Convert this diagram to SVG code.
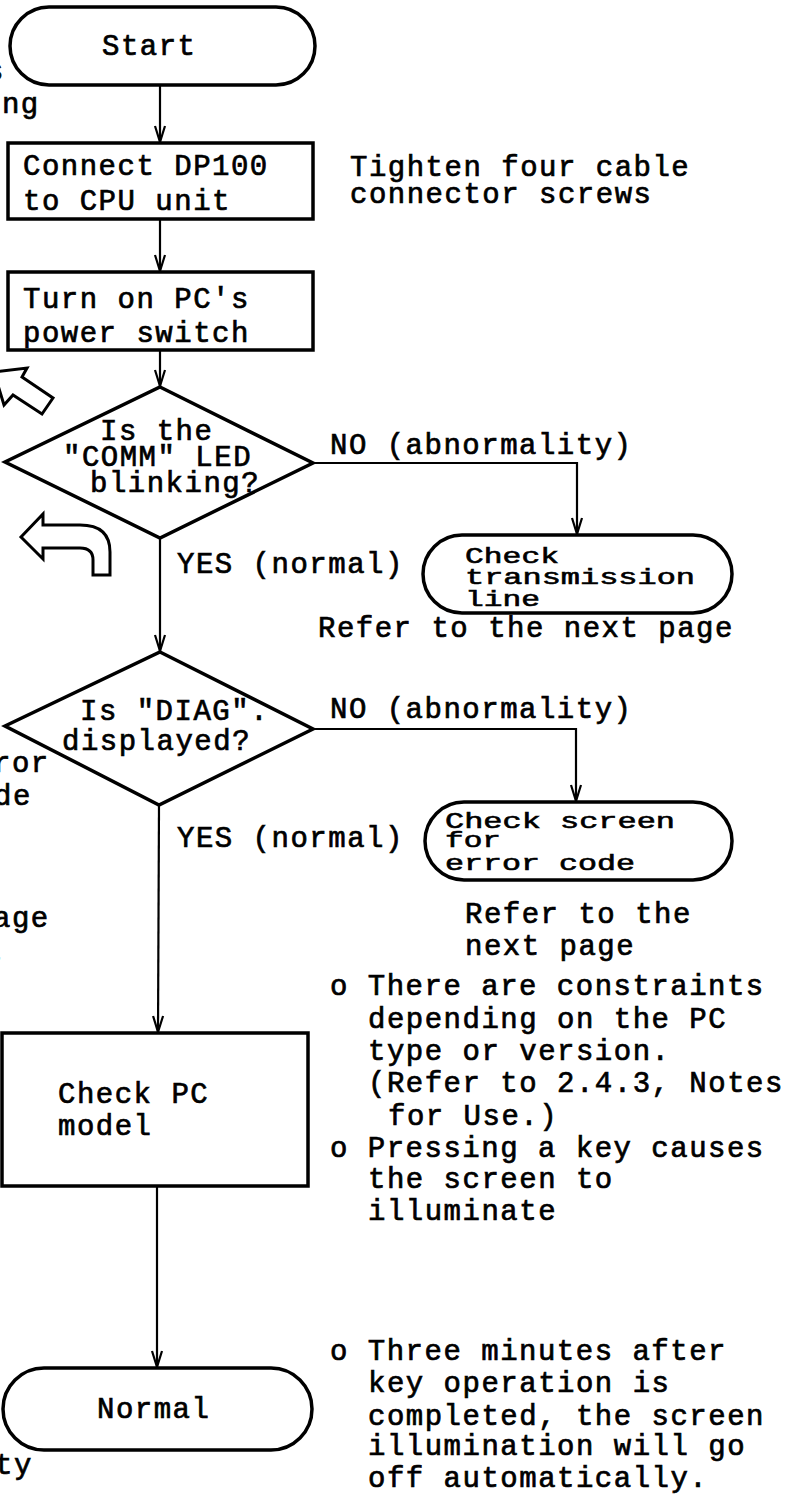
<svg xmlns="http://www.w3.org/2000/svg" width="795" height="1494" viewBox="0 0 795 1494">
<style>
.t{font-family:"Liberation Mono","Courier New",monospace;font-size:29px;letter-spacing:1.5px;fill:#000;stroke:#000;stroke-width:0.7px}
.s{font-family:"Liberation Mono","Courier New",monospace;font-size:22px;fill:#000;stroke:#000;stroke-width:0.6px}
.shape{fill:#fff;stroke:#000;stroke-width:3.5}
.conn{fill:none;stroke:#000;stroke-width:2.2}
.hollow{fill:#fff;stroke:#000;stroke-width:3;stroke-linejoin:miter}
</style>
<defs>
<marker id="arr" markerUnits="userSpaceOnUse" viewBox="-18 -8 20 16" refX="0" refY="0" markerWidth="20" markerHeight="16" orient="auto">
<path d="M-16,-5 L0,0 L-16,5" fill="none" stroke="#000" stroke-width="2.2"/>
</marker>
</defs>
<rect width="795" height="1494" fill="#fff"/>

<g id="connectors">
<path class="conn" d="M160,85 L160,142" marker-end="url(#arr)"/>
<path class="conn" d="M160,219 L160,271" marker-end="url(#arr)"/>
<path class="conn" d="M160,350 L160,386" marker-end="url(#arr)"/>
<path class="conn" d="M313,463 L577,463 L577,534" marker-end="url(#arr)"/>
<path class="conn" d="M160,538 L160,651" marker-end="url(#arr)"/>
<path class="conn" d="M313,729 L576,729 L576,801" marker-end="url(#arr)"/>
<path class="conn" d="M159,805 L158,1032" marker-end="url(#arr)"/>
<path class="conn" d="M157,1186 L157,1367" marker-end="url(#arr)"/>
</g>

<g id="start">
<rect class="shape" x="10" y="7" width="305" height="78" rx="39"/>
<text class="t" x="102" y="55">Start</text>
</g>

<g id="connect">
<rect class="shape" x="8" y="143" width="305" height="76"/>
<text class="t" x="23" y="175">Connect DP100</text>
<text class="t" x="23" y="210">to CPU unit</text>
</g>

<g id="power">
<rect class="shape" x="8" y="272" width="305" height="78"/>
<text class="t" x="23" y="308">Turn on PC's</text>
<text class="t" x="23" y="342">power switch</text>
</g>

<g id="comm">
<polygon class="shape" points="160,387 313,463 160,538 5,462"/>
<text class="t" x="100" y="440">Is the</text>
<text class="t" x="63" y="466">"COMM" LED</text>
<text class="t" x="90" y="492">blinking?</text>
</g>

<g id="transmission">
<rect class="shape" x="423" y="535" width="309" height="78" rx="39"/>
<text class="s" x="465" y="563" textLength="94" lengthAdjust="spacingAndGlyphs">Check</text>
<text class="s" x="465" y="584" textLength="230" lengthAdjust="spacingAndGlyphs">transmission</text>
<text class="s" x="465" y="606" textLength="75" lengthAdjust="spacingAndGlyphs">line</text>
</g>

<g id="diag">
<polygon class="shape" points="160,652 313,729 159,805 5,726"/>
<text class="t" x="80" y="720">Is "DIAG".</text>
<text class="t" x="62" y="750">displayed?</text>
</g>

<g id="screen">
<rect class="shape" x="425" y="802" width="307" height="78" rx="39"/>
<text class="s" x="445" y="828" textLength="230" lengthAdjust="spacingAndGlyphs">Check screen</text>
<text class="s" x="445" y="847" textLength="56" lengthAdjust="spacingAndGlyphs">for</text>
<text class="s" x="445" y="870" textLength="190" lengthAdjust="spacingAndGlyphs">error code</text>
</g>

<g id="model">
<rect class="shape" x="2" y="1033" width="306" height="153"/>
<text class="t" x="58" y="1103">Check PC</text>
<text class="t" x="58" y="1135">model</text>
</g>

<g id="normal">
<rect class="shape" x="3" y="1368" width="309" height="82" rx="41"/>
<text class="t" x="97" y="1418">Normal</text>
</g>

<g id="labels">
<text class="t" x="350" y="176">Tighten four cable</text>
<text class="t" x="350" y="203">connector screws</text>
<text class="t" x="330" y="454">NO (abnormality)</text>
<text class="t" x="177" y="573">YES (normal)</text>
<text class="t" x="318" y="637">Refer to the next page</text>
<text class="t" x="330" y="718">NO (abnormality)</text>
<text class="t" x="177" y="847">YES (normal)</text>
<text class="t" x="465" y="923">Refer to the</text>
<text class="t" x="465" y="955">next page</text>
<text class="t" x="330" y="995">o There are constraints</text>
<text class="t" x="368" y="1028">depending on the PC</text>
<text class="t" x="368" y="1060">type or version.</text>
<text class="t" x="368" y="1092">(Refer to 2.4.3, Notes</text>
<text class="t" x="388" y="1125">for Use.)</text>
<text class="t" x="330" y="1157">o Pressing a key causes</text>
<text class="t" x="368" y="1188">the screen to</text>
<text class="t" x="368" y="1220">illuminate</text>
<text class="t" x="330" y="1360">o Three minutes after</text>
<text class="t" x="368" y="1392">key operation is</text>
<text class="t" x="368" y="1425">completed, the screen</text>
<text class="t" x="368" y="1455">illumination will go</text>
<text class="t" x="368" y="1487">off automatically.</text>
</g>

<g id="left-cut-text">
<text class="t" x="-14" y="80">s</text>
<text class="t" x="-17" y="113">ing</text>
<text class="t" x="-7" y="772">ror</text>
<text class="t" x="-6" y="805">de</text>
<text class="t" x="-7" y="927">age</text>
<text class="t" x="-15" y="960">t</text>
<text class="t" x="-5" y="1474">ty</text>
</g>

<g id="hollow-arrows">
<polygon class="hollow" points="-6,372 27,368 22,377 53,398 42,414 13,395 4,405"/>
<path class="hollow" d="M21,537 L43,514 L43,525 L80,525 Q110,525 110,552 L110,575 L93,575 L93,560 Q93,548 80,548 L43,548 L43,559 Z"/>
</g>
</svg>
